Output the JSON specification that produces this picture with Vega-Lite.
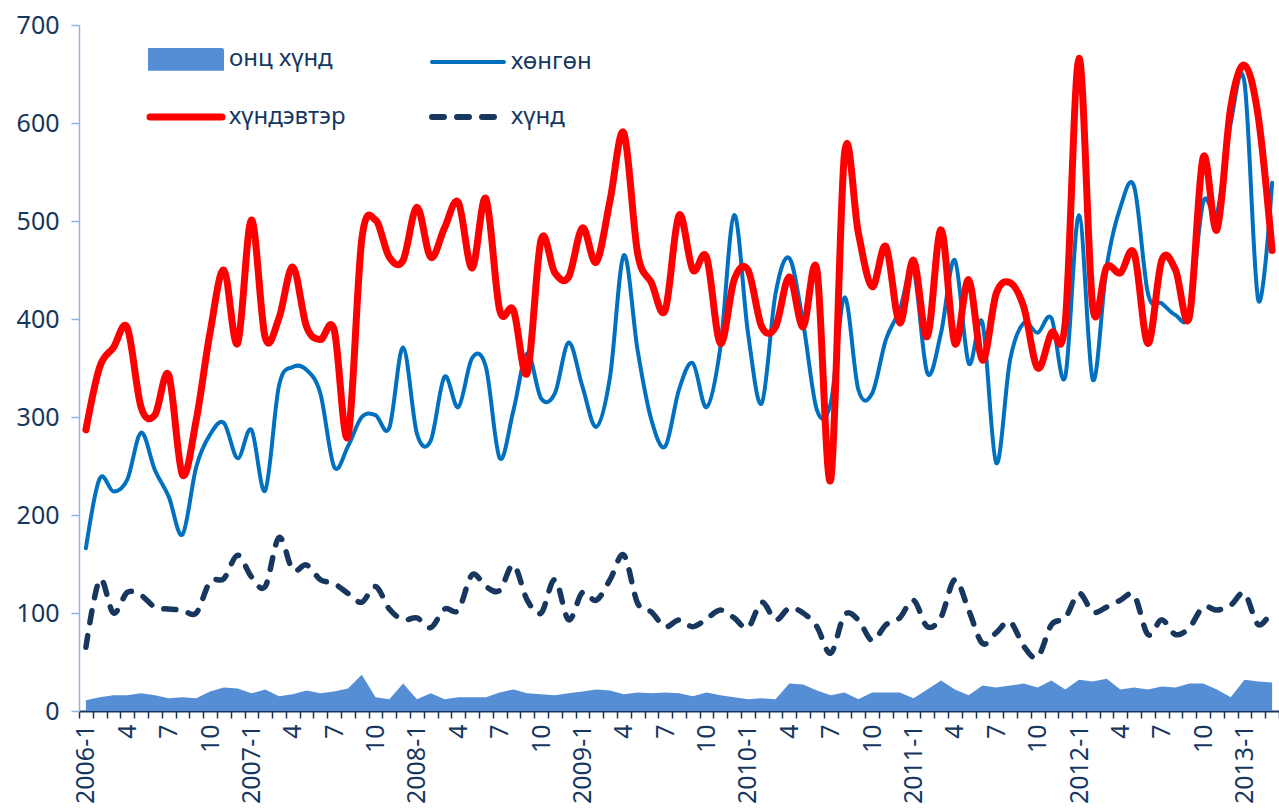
{
  "$schema": "https://vega.github.io/schema/vega-lite/v6.json",
  "width": 1200,
  "height": 686,
  "autosize": {"type": "none"},
  "padding": {"left": 79, "top": 25, "right": 0, "bottom": 101},
  "background": "white",
  "config": {"view": {"stroke": null}, "font": "Noto Sans"},
  "data": {"values": [
    {"m":"2006-1","onc":11,"hon":166,"hdv":287,"hnd":65},
    {"m":"2006-2","onc":14,"hon":237,"hdv":351,"hnd":134},
    {"m":"2006-3","onc":16,"hon":224,"hdv":371,"hnd":100},
    {"m":"2006-4","onc":16,"hon":236,"hdv":391,"hnd":121},
    {"m":"2006-5","onc":18,"hon":284,"hdv":310,"hnd":118},
    {"m":"2006-6","onc":16,"hon":246,"hdv":302,"hnd":106},
    {"m":"2006-7","onc":13,"hon":219,"hdv":343,"hnd":104},
    {"m":"2006-8","onc":14,"hon":180,"hdv":241,"hnd":103},
    {"m":"2006-9","onc":13,"hon":249,"hdv":297,"hnd":100},
    {"m":"2006-10","onc":20,"hon":282,"hdv":386,"hnd":132},
    {"m":"2006-11","onc":24,"hon":294,"hdv":450,"hnd":135},
    {"m":"2006-12","onc":23,"hon":258,"hdv":375,"hnd":159},
    {"m":"2007-1","onc":18,"hon":287,"hdv":501,"hnd":137},
    {"m":"2007-2","onc":22,"hon":225,"hdv":381,"hnd":127},
    {"m":"2007-3","onc":15,"hon":332,"hdv":401,"hnd":177},
    {"m":"2007-4","onc":17,"hon":351,"hdv":453,"hnd":144},
    {"m":"2007-5","onc":21,"hon":348,"hdv":392,"hnd":149},
    {"m":"2007-6","onc":18,"hon":324,"hdv":379,"hnd":134},
    {"m":"2007-7","onc":20,"hon":249,"hdv":389,"hnd":130},
    {"m":"2007-8","onc":23,"hon":270,"hdv":280,"hnd":120},
    {"m":"2007-9","onc":37,"hon":300,"hdv":481,"hnd":111},
    {"m":"2007-10","onc":14,"hon":302,"hdv":501,"hnd":127},
    {"m":"2007-11","onc":12,"hon":289,"hdv":463,"hnd":104},
    {"m":"2007-12","onc":28,"hon":371,"hdv":460,"hnd":93},
    {"m":"2008-1","onc":12,"hon":283,"hdv":514,"hnd":95},
    {"m":"2008-2","onc":18,"hon":276,"hdv":463,"hnd":85},
    {"m":"2008-3","onc":12,"hon":341,"hdv":493,"hnd":104},
    {"m":"2008-4","onc":14,"hon":310,"hdv":519,"hnd":103},
    {"m":"2008-5","onc":14,"hon":360,"hdv":452,"hnd":139},
    {"m":"2008-6","onc":14,"hon":351,"hdv":523,"hnd":127},
    {"m":"2008-7","onc":19,"hon":258,"hdv":409,"hnd":123},
    {"m":"2008-8","onc":22,"hon":307,"hdv":409,"hnd":149},
    {"m":"2008-9","onc":18,"hon":365,"hdv":345,"hnd":113},
    {"m":"2008-10","onc":17,"hon":319,"hdv":481,"hnd":100},
    {"m":"2008-11","onc":16,"hon":324,"hdv":447,"hnd":134},
    {"m":"2008-12","onc":18,"hon":376,"hdv":443,"hnd":93},
    {"m":"2009-1","onc":20,"hon":331,"hdv":493,"hnd":121},
    {"m":"2009-2","onc":22,"hon":290,"hdv":458,"hnd":113},
    {"m":"2009-3","onc":21,"hon":341,"hdv":521,"hnd":134},
    {"m":"2009-4","onc":17,"hon":465,"hdv":590,"hnd":159},
    {"m":"2009-5","onc":19,"hon":368,"hdv":467,"hnd":110},
    {"m":"2009-6","onc":18,"hon":297,"hdv":437,"hnd":101},
    {"m":"2009-7","onc":19,"hon":270,"hdv":409,"hnd":86},
    {"m":"2009-8","onc":18,"hon":328,"hdv":506,"hnd":93},
    {"m":"2009-9","onc":15,"hon":355,"hdv":450,"hnd":86},
    {"m":"2009-10","onc":19,"hon":310,"hdv":463,"hnd":94},
    {"m":"2009-11","onc":16,"hon":371,"hdv":375,"hnd":103},
    {"m":"2009-12","onc":14,"hon":506,"hdv":440,"hnd":95},
    {"m":"2010-1","onc":12,"hon":386,"hdv":450,"hnd":85},
    {"m":"2010-2","onc":13,"hon":314,"hdv":392,"hnd":111},
    {"m":"2010-3","onc":12,"hon":426,"hdv":392,"hnd":93},
    {"m":"2010-4","onc":28,"hon":462,"hdv":443,"hnd":105},
    {"m":"2010-5","onc":27,"hon":396,"hdv":392,"hnd":100},
    {"m":"2010-6","onc":21,"hon":307,"hdv":450,"hnd":86},
    {"m":"2010-7","onc":16,"hon":314,"hdv":236,"hnd":59},
    {"m":"2010-8","onc":19,"hon":422,"hdv":569,"hnd":98},
    {"m":"2010-9","onc":12,"hon":328,"hdv":488,"hnd":93},
    {"m":"2010-10","onc":19,"hon":324,"hdv":433,"hnd":72},
    {"m":"2010-11","onc":19,"hon":379,"hdv":474,"hnd":88},
    {"m":"2010-12","onc":19,"hon":409,"hdv":396,"hnd":95},
    {"m":"2011-1","onc":13,"hon":450,"hdv":460,"hnd":113},
    {"m":"2011-2","onc":22,"hon":345,"hdv":382,"hnd":86},
    {"m":"2011-3","onc":31,"hon":386,"hdv":491,"hnd":96},
    {"m":"2011-4","onc":22,"hon":460,"hdv":375,"hnd":134},
    {"m":"2011-5","onc":16,"hon":355,"hdv":440,"hnd":103},
    {"m":"2011-6","onc":26,"hon":396,"hdv":358,"hnd":69},
    {"m":"2011-7","onc":24,"hon":253,"hdv":426,"hnd":80},
    {"m":"2011-8","onc":26,"hon":358,"hdv":437,"hnd":91},
    {"m":"2011-9","onc":28,"hon":396,"hdv":412,"hnd":66},
    {"m":"2011-10","onc":24,"hon":386,"hdv":350,"hnd":55},
    {"m":"2011-11","onc":31,"hon":401,"hdv":386,"hnd":88},
    {"m":"2011-12","onc":22,"hon":341,"hdv":396,"hnd":95},
    {"m":"2012-1","onc":32,"hon":506,"hdv":666,"hnd":120},
    {"m":"2012-2","onc":30,"hon":338,"hdv":412,"hnd":101},
    {"m":"2012-3","onc":33,"hon":453,"hdv":453,"hnd":106},
    {"m":"2012-4","onc":22,"hon":514,"hdv":447,"hnd":113},
    {"m":"2012-5","onc":24,"hon":535,"hdv":467,"hnd":118},
    {"m":"2012-6","onc":22,"hon":426,"hdv":375,"hnd":78},
    {"m":"2012-7","onc":25,"hon":416,"hdv":460,"hnd":93},
    {"m":"2012-8","onc":24,"hon":404,"hdv":450,"hnd":78},
    {"m":"2012-9","onc":28,"hon":406,"hdv":402,"hnd":85},
    {"m":"2012-10","onc":28,"hon":519,"hdv":565,"hnd":106},
    {"m":"2012-11","onc":22,"hon":508,"hdv":491,"hnd":103},
    {"m":"2012-12","onc":14,"hon":600,"hdv":616,"hnd":108},
    {"m":"2013-1","onc":32,"hon":641,"hdv":659,"hnd":120},
    {"m":"2013-2","onc":30,"hon":419,"hdv":606,"hnd":88},
    {"m":"2013-3","onc":29,"hon":539,"hdv":470,"hnd":103}
  ]},
  "transform": [{"fold": ["onc", "hon", "hdv", "hnd"], "as": ["k", "v"]}],
  "encoding": {
    "x": {
      "field": "m", "type": "ordinal", "sort": null, "bandPosition": 0.5,
      "scale": {"type": "band", "paddingInner": 0, "paddingOuter": 0},
      "axis": {
        "title": null, "tickBand": "extent", "labelAngle": -90, "labelAlign": "right", "labelBaseline": "middle",
        "labelExpr": "split(datum.value,'-')[1] === '1' ? datum.value : (indexof(['4','7','10'], split(datum.value,'-')[1]) >= 0 ? split(datum.value,'-')[1] : '')",
        "labelOverlap": false, "labelFontSize": 25, "labelColor": "#17375E", "labelPadding": 6,
        "domainColor": "#17375E", "domainWidth": 2, "tickColor": "#17375E", "tickSize": 7, "tickWidth": 1.5
      }
    },
    "y": {
      "field": "v", "type": "quantitative",
      "scale": {"domain": [0, 700], "nice": false},
      "axis": {
        "title": null, "grid": false, "values": [0, 100, 200, 300, 400, 500, 600, 700],
        "domainColor": "#8EB4E3", "domainWidth": 1.5, "tickColor": "#8EB4E3", "tickSize": 8, "tickWidth": 1.5,
        "labelFontSize": 25, "labelColor": "#17375E", "labelPadding": 12
      }
    },
    "color": {
      "field": "k", "type": "nominal",
      "scale": {"domain": ["onc", "hdv", "hon", "hnd"], "range": ["#558ED5", "#FF0000", "#0070C0", "#17375E"]},
      "legend": {
        "orient": "none", "legendX": 95, "legendY": 22, "columns": 2, "columnPadding": 74, "rowPadding": 26, "padding": 0,
        "title": null, "symbolSize": 5184, "symbolType": "stroke", "labelOffset": 31,
        "labelFontSize": 24, "labelFont": "Noto Sans", "labelColor": "#17375E", "labelLimit": 300,
        "labelExpr": "datum.value === 'onc' ? 'онц хүнд' : datum.value === 'hdv' ? 'хүндэвтэр' : datum.value === 'hon' ? 'хөнгөн' : 'хүнд'",
        "encode": {"symbols": {"update": {
          "shape": {"signal": "datum.value === 'onc' ? 'M-1,-0.26H1V0.26H-1Z' : 'stroke'"},
          "size": {"value": 5184},
          "fill": {"signal": "datum.value === 'onc' ? '#558ED5' : 'transparent'"},
          "stroke": {"signal": "datum.value === 'onc' ? 'transparent' : scale('color', datum.value)"},
          "strokeWidth": {"signal": "datum.value === 'hdv' ? 7 : (datum.value === 'hnd' ? 6 : 4)"},
          "strokeDash": {"signal": "datum.value === 'hnd' ? [12, 13] : [1, 0]"},
          "strokeCap": {"value": "round"},
          "opacity": {"value": 1}
        }}}
      }
    }
  },
  "layer": [
    {
      "transform": [{"filter": "datum.k === 'onc'"}],
      "mark": {"type": "area", "interpolate": "linear", "opacity": 1}
    },
    {
      "transform": [{"filter": "datum.k === 'hon'"}],
      "mark": {"type": "line", "interpolate": "cardinal", "strokeWidth": 4, "strokeCap": "round"}
    },
    {
      "transform": [{"filter": "datum.k === 'hnd'"}],
      "mark": {"type": "line", "interpolate": "cardinal", "strokeWidth": 5.5, "strokeDash": [12, 13], "strokeCap": "round"}
    },
    {
      "transform": [{"filter": "datum.k === 'hdv'"}],
      "mark": {"type": "line", "interpolate": "cardinal", "strokeWidth": 7, "strokeCap": "round", "strokeJoin": "round"}
    }
  ]
}
